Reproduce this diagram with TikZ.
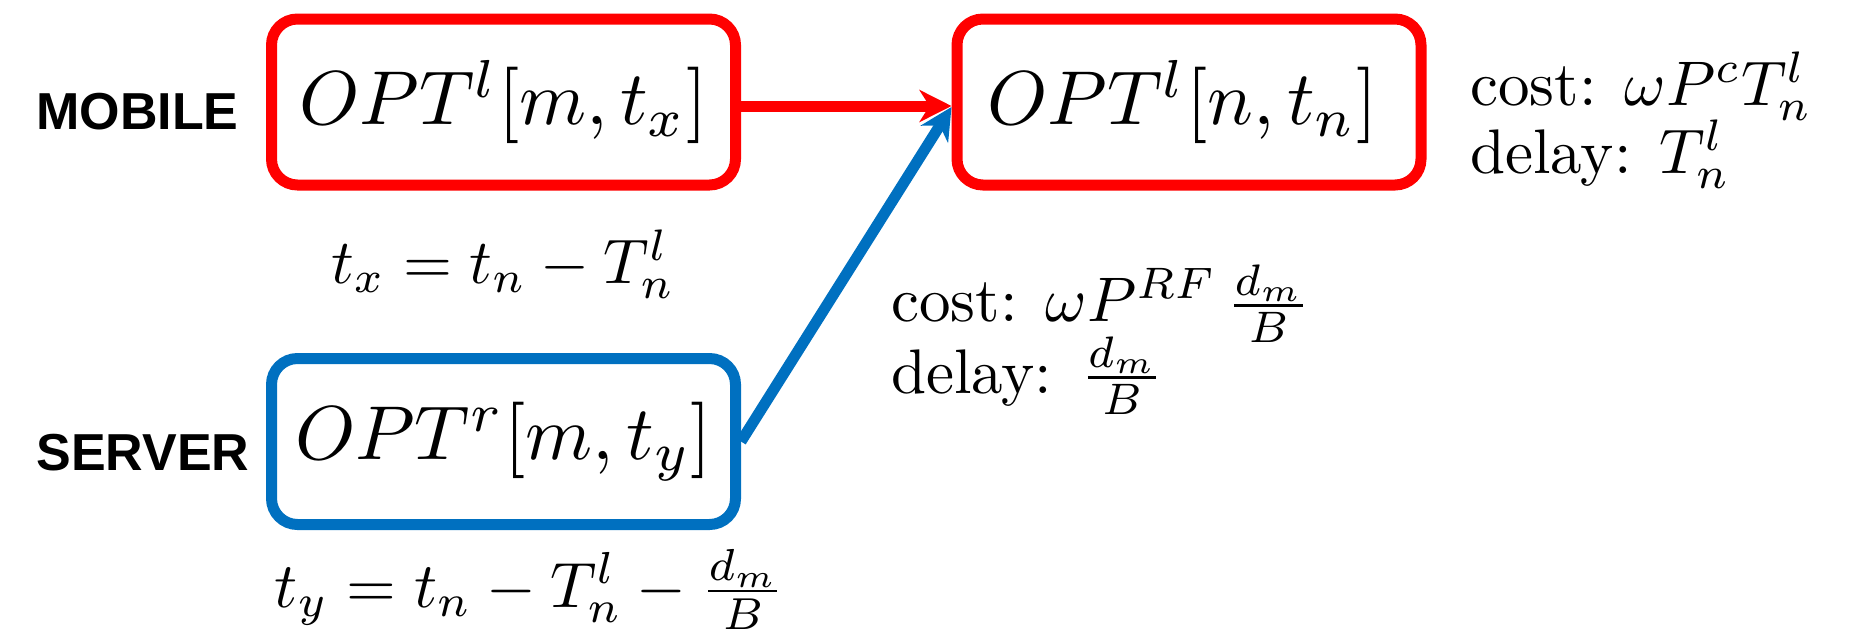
\documentclass[tikz,border=0pt]{standalone}
\usepackage{fontspec}
\newfontfamily\labelfont{Liberation Sans}
\usetikzlibrary{arrows.meta}
\definecolor{boxred}{HTML}{FF0000}
\definecolor{boxblue}{HTML}{0070C0}
\newcommand{\boxtext}[1]{\scalebox{3.82}{$#1$}}
\newcommand{\notetext}[1]{\scalebox{3.15}{#1}}
\tikzset{
  optbox/.style={draw, line width=5.5pt, rounded corners=13pt, minimum width=232pt, minimum height=83pt, inner sep=0pt},
  sidelabel/.style={font=\labelfont\bfseries\fontsize{26}{31}\selectfont, anchor=base west, inner sep=0pt},
  note/.style={anchor=base west, inner sep=0pt},
  formula/.style={anchor=base, inner sep=0pt},
  link/.style={line width=5.5pt, -{Stealth[length=16pt, width=16pt, inset=5pt]}}
}
\begin{document}
\begin{tikzpicture}[x=0.5pt, y=-0.5pt]
\useasboundingbox (0,0) rectangle (1867,638);
\node[optbox, draw=boxred] (mob) at (503.5,102) {\boxtext{OPT^l[m,t_x]}};
\node[optbox, draw=boxred] (opt) at (1189,102) {\boxtext{OPT^l[n,t_n]\,}};
\node[optbox, draw=boxblue] (srv) at (503.5,441.5) {\boxtext{OPT^r[m,t_y]}};
\node[sidelabel] (mobl) at (36,129) {MOBILE};
\node[sidelabel] (srvl) at (36,470) {SERVER};
\node[formula] (tx) at (503,283) {\notetext{$t_x = t_n - T^l_n$}};
\node[formula] (ty) at (530,607) {\scalebox{3.2}{$t_y = t_n - T^l_n - \frac{d_m}{B}$}};
\node[note] (c1) at (1470,105) {\notetext{cost: $\omega P^c T^l_n$}};
\node[note] (d1) at (1470,173) {\notetext{delay: $T^l_n$}};
\node[note] (c2) at (891,321) {\notetext{cost: $\omega P^{RF}\,\frac{d_m}{B}$}};
\node[note] (d2) at (891,393) {\notetext{delay: $\frac{d_m}{B}$}};
\draw[link, draw=boxred, fill=boxred] (mob.east |- 0,106) -- (opt.west |- 0,106);
\draw[link, draw=boxblue, fill=boxblue] (srv.east) -- (opt.west |- 0,107);
\end{tikzpicture}
\end{document}
